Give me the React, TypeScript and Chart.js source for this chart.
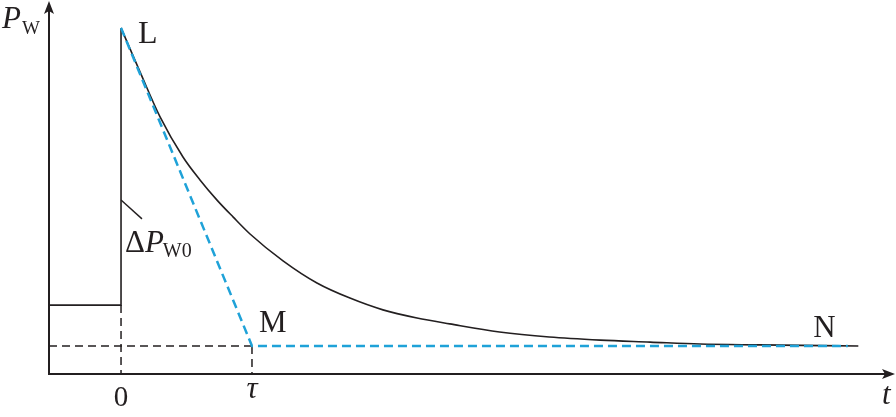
import React, { useEffect, useRef } from "react";
import { Chart, registerables } from "chart.js";

Chart.register(...registerables);

// Axis ranges (t in units of tau, P in arbitrary units where final level = 1)
const T_MIN = -0.55;
const T_MAX = 5.91;
const P_MIN = 0;
const P_MAX = 13.32;

// Levels
const preLevel = 2.46;
const finalLevel = 1.0;
const peakLevel = 12.36;
const tauValue = 1;

// Pre-step segment
const stepT = [T_MIN, 0, 0];
const stepP = [preLevel, preLevel, peakLevel];

// Exponential recovery curve
const curveT = [0, 0.145, 0.298, 0.473, 0.603, 0.733, 0.855, 0.985, 1.237, 1.496, 1.748, 2.0, 2.26, 2.51, 2.89, 3.27, 3.66, 4.04, 4.42, 4.88, 5.63];
const curveP = [12.36, 10.79, 9.18, 7.75, 6.93, 6.21, 5.61, 5.0, 4.04, 3.25, 2.71, 2.29, 2.0, 1.79, 1.5, 1.32, 1.21, 1.14, 1.07, 1.04, 1.0];

// Blue tangent dashed line
const tangentT = [0, tauValue, 5.55];
const tangentP = [peakLevel, finalLevel, finalLevel];

// Black dashed guide lines
const guideHT = [T_MIN, tauValue];
const guideHP = [finalLevel, finalLevel];
const guideV0T = [0, 0];
const guideV0P = [preLevel, P_MIN];
const guideVTauT = [tauValue, tauValue];
const guideVTauP = [finalLevel, P_MIN];

// Annotation leader for ΔP_W0
const leaderT = [0, 0.16];
const leaderP = [6.21, 5.54];

// Text
const pointLabels = ["L", "M", "N"];
const tickLabels = ["0", "τ"];
const xAxisLabel = "t";

const pts = (xs: number[], ys: number[]) => xs.map((x, i) => ({ x, y: ys[i] }));

const SERIF = '"Liberation Serif", "Times New Roman", serif';

const overlayPlugin = {
  id: "overlay",
  beforeDatasetsDraw(chart: any) {
    const { ctx, scales } = chart;
    const xs = scales.x;
    const ys = scales.y;
    const x0 = xs.getPixelForValue(T_MIN);
    const y0 = ys.getPixelForValue(P_MIN);
    const xEnd = xs.getPixelForValue(T_MAX);
    const yEnd = ys.getPixelForValue(P_MAX);
    ctx.save();
    ctx.strokeStyle = "#231f20";
    ctx.fillStyle = "#231f20";
    ctx.lineWidth = 2;
    ctx.beginPath();
    ctx.moveTo(x0, yEnd + 10);
    ctx.lineTo(x0, y0);
    ctx.lineTo(xEnd - 10, y0);
    ctx.stroke();
    // arrowheads
    ctx.beginPath();
    ctx.moveTo(x0, yEnd);
    ctx.lineTo(x0 - 5, yEnd + 13);
    ctx.lineTo(x0, yEnd + 10);
    ctx.lineTo(x0 + 5, yEnd + 13);
    ctx.closePath();
    ctx.fill();
    ctx.beginPath();
    ctx.moveTo(xEnd, y0);
    ctx.lineTo(xEnd - 13, y0 - 5);
    ctx.lineTo(xEnd - 10, y0);
    ctx.lineTo(xEnd - 13, y0 + 5);
    ctx.closePath();
    ctx.fill();
    ctx.restore();
  },
  afterDraw(chart: any) {
    const { ctx, scales } = chart;
    const xs = scales.x;
    const ys = scales.y;
    const px = (t: number) => xs.getPixelForValue(t);
    const py = (p: number) => ys.getPixelForValue(p);
    ctx.save();
    ctx.fillStyle = "#231f20";
    ctx.textBaseline = "alphabetic";
    ctx.textAlign = "left";

    // P_W axis label
    const axX = px(T_MIN);
    ctx.font = `italic 31px ${SERIF}`;
    ctx.fillText("P", axX - 47, 28);
    ctx.font = `19px ${SERIF}`;
    ctx.fillText("W", axX - 27, 34);

    // t axis label
    ctx.font = `italic 31px ${SERIF}`;
    ctx.fillText(xAxisLabel, px(T_MAX) - 13, py(P_MIN) + 30);

    // point labels
    ctx.font = `32px ${SERIF}`;
    ctx.fillText(pointLabels[0], px(0) + 17, py(peakLevel) + 15);
    ctx.font = `31px ${SERIF}`;
    ctx.fillText(pointLabels[1], px(tauValue) + 7, py(finalLevel) - 14);
    ctx.fillText(pointLabels[2], px(curveT[curveT.length - 1]) - 45, py(finalLevel) - 9);

    // tick labels
    ctx.textAlign = "center";
    ctx.font = `29px ${SERIF}`;
    ctx.fillText(tickLabels[0], px(0), py(P_MIN) + 32);
    ctx.font = `italic 31px ${SERIF}`;
    ctx.fillText(tickLabels[1], px(tauValue), py(P_MIN) + 24);

    // ΔP_W0
    ctx.textAlign = "left";
    const lx = px(leaderT[1]) - 17;
    const ly = py(leaderP[1]) + 33;
    ctx.font = `31px ${SERIF}`;
    ctx.fillText("Δ", lx, ly);
    const dw = ctx.measureText("Δ").width;
    ctx.font = `italic 31px ${SERIF}`;
    ctx.fillText("P", lx + dw, ly);
    const pw = ctx.measureText("P").width;
    ctx.font = `20px ${SERIF}`;
    ctx.fillText("W0", lx + dw + pw - 1, ly + 5);
    ctx.restore();
  },
};

export default function App() {
  const ref = useRef<HTMLCanvasElement | null>(null);
  useEffect(() => {
    document.body.style.margin = "0";
    const canvas = ref.current;
    if (!canvas) return;
    const black = "#231f20";
    const blue = "#1fa2d8";
    const chart = new Chart(canvas, {
      type: "line",
      data: {
        datasets: [
          {
            data: pts(tangentT, tangentP),
            borderColor: blue,
            borderWidth: 2.5,
            borderDash: [9, 5],
            pointRadius: 0,
            tension: 0,
            order: 0,
          },
          {
            data: pts(curveT, curveP),
            borderColor: black,
            borderWidth: 1.6,
            pointRadius: 0,
            cubicInterpolationMode: "monotone",
            order: 1,
          },
          {
            data: pts(stepT, stepP),
            borderColor: black,
            borderWidth: 1.6,
            pointRadius: 0,
            tension: 0,
            order: 1,
          },
          {
            data: pts(leaderT, leaderP),
            borderColor: black,
            borderWidth: 1.4,
            pointRadius: 0,
            tension: 0,
            order: 1,
          },
          {
            data: pts(guideHT, guideHP),
            borderColor: black,
            borderWidth: 1.5,
            borderDash: [8, 5],
            pointRadius: 0,
            tension: 0,
            order: 2,
          },
          {
            data: pts(guideV0T, guideV0P),
            borderColor: black,
            borderWidth: 1.5,
            borderDash: [8, 5],
            pointRadius: 0,
            tension: 0,
            order: 2,
          },
          {
            data: pts(guideVTauT, guideVTauP),
            borderColor: black,
            borderWidth: 1.5,
            borderDash: [8, 5],
            pointRadius: 0,
            tension: 0,
            order: 2,
          },
        ] as any,
      },
      options: {
        animation: false,
        responsive: false,
        devicePixelRatio: 1,
        layout: { padding: { left: 49, top: 1, right: 1, bottom: 43 } },
        plugins: { legend: { display: false }, tooltip: { enabled: false } },
        scales: {
          x: { type: "linear", min: T_MIN, max: T_MAX, display: false },
          y: { type: "linear", min: P_MIN, max: P_MAX, display: false },
        },
      } as any,
      plugins: [overlayPlugin],
    });
    return () => chart.destroy();
  }, []);
  return (
    <canvas
      ref={ref}
      width={896}
      height={417}
      style={{ display: "block", width: 896, height: 417, background: "#fff" }}
    />
  );
}
